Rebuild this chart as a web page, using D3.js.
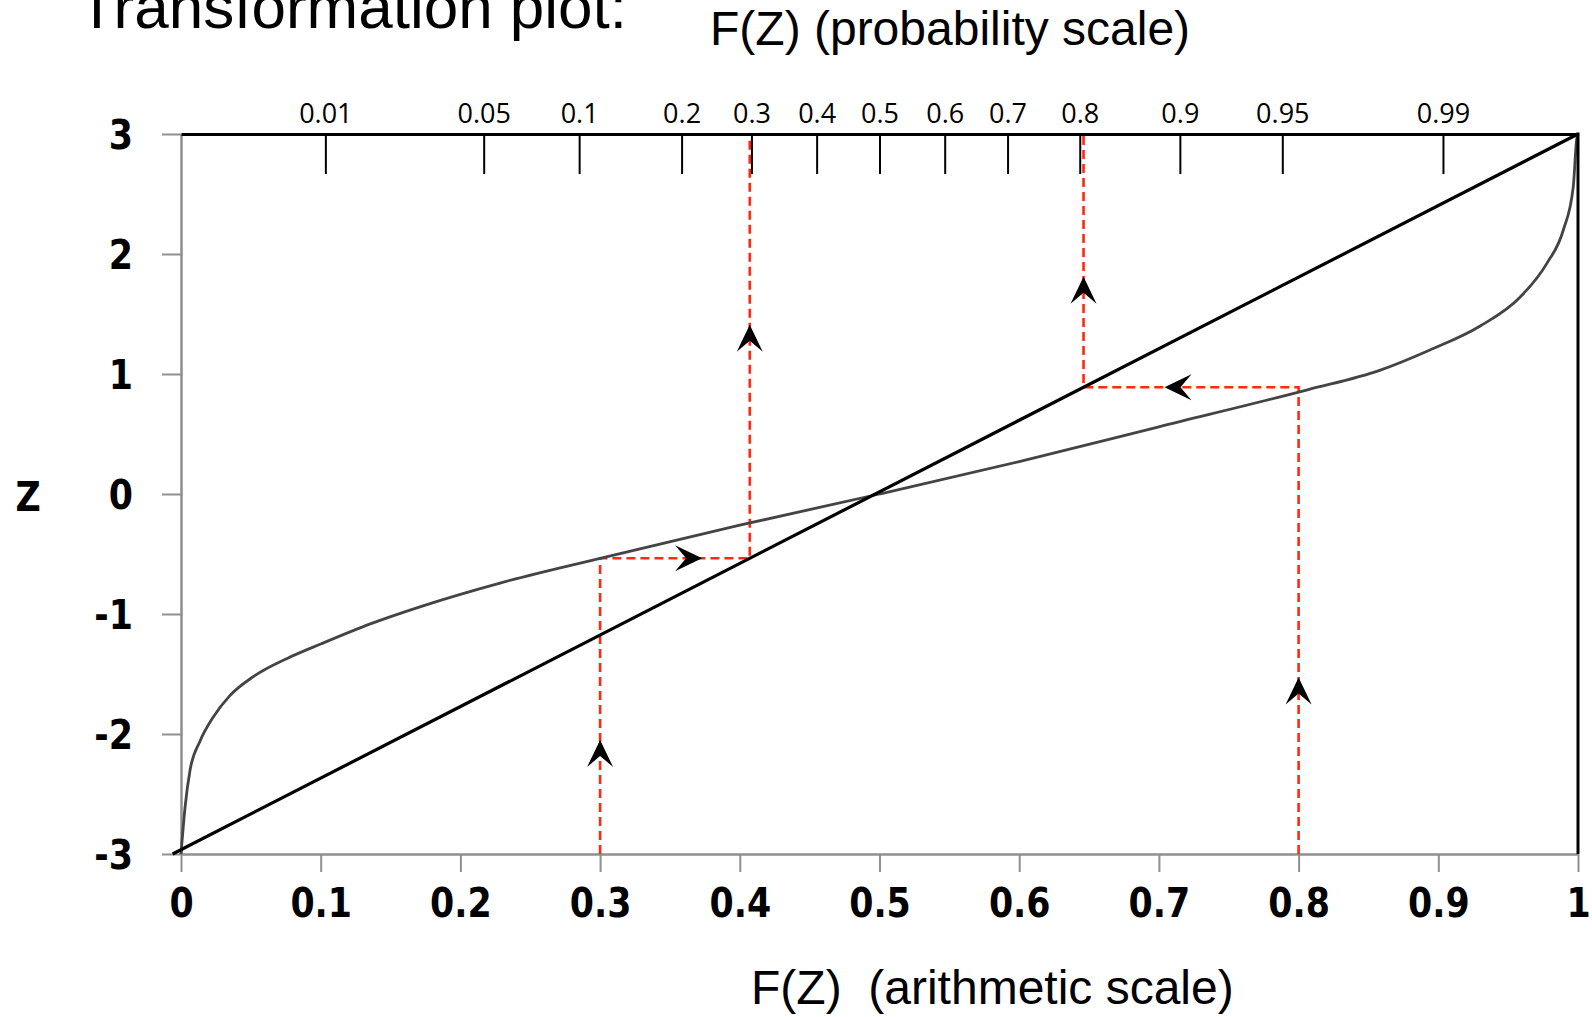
<!DOCTYPE html>
<html>
<head>
<meta charset="utf-8">
<title>Transformation plot</title>
<script src="https://cdn.jsdelivr.net/npm/d3@7"></script>
<style>
  html, body { margin: 0; padding: 0; background: #fff; }
  svg { display: block; }
  .sans { font-family: "Liberation Sans", Arial, sans-serif; }
  .bold-label { font-family: "DejaVu Sans", Verdana, sans-serif; font-weight: bold; font-size: 40px; fill: #000; }
  .prob-label { font-family: "Open Sans", sans-serif; font-size: 27px; fill: #000; }
</style>
</head>
<body>
<div id="chart"></div>
<script>
// S-curve: F(Z) on the arithmetic axis against Z
const CURVE_F = [0, 0.003, 0.0065, 0.0136, 0.023, 0.035, 0.052, 0.076, 0.1, 0.136, 0.171, 0.229,
  0.3, 0.4, 0.5, 0.6, 0.7, 0.807, 0.858, 0.894, 0.93, 0.9585, 0.9776, 0.9895, 0.9966, 0.999, 1];
const CURVE_Z = [-3, -2.6, -2.3, -2.06, -1.86, -1.68, -1.52, -1.37, -1.25, -1.08, -0.94, -0.74,
  -0.536, -0.26, 0, 0.27, 0.56, 0.87, 1.03, 1.2, 1.4, 1.64, 1.92, 2.2, 2.56, 2.95, 3];

// straight transformation line
const DIAG_F = [-0.006, 1];
const DIAG_Z = [-3, 3];

// arithmetic axis (bottom) and Z axis (left)
const X_TICKS = [0, 0.1, 0.2, 0.3, 0.4, 0.5, 0.6, 0.7, 0.8, 0.9, 1];
const X_TICK_LABELS = ['0', '0.1', '0.2', '0.3', '0.4', '0.5', '0.6', '0.7', '0.8', '0.9', '1'];
const Y_TICKS = [3, 2, 1, 0, -1, -2, -3];

// probability axis (top): label and the Z where its tick sits
const PROB_TICK_LABELS = ['0.01', '0.05', '0.1', '0.2', '0.3', '0.4', '0.5', '0.6', '0.7', '0.8', '0.9', '0.95', '0.99'];
const PROB_TICK_Z = [-2.38, -1.70, -1.29, -0.85, -0.55, -0.27, 0, 0.28, 0.55, 0.86, 1.29, 1.73, 2.42];

// red guides: start F, Z where they meet the curve, and where the arrowheads sit
const GUIDE_F = [0.3, 0.8];
const GUIDE_Z = [-0.536, 0.889];
const ARROW_LOWER_Z = [-2.05, -1.53];
const ARROW_MID_F = [0.373, 0.704];
const ARROW_UPPER_Z = [1.41, 1.81];

/**
 * Draw the transformation plot
 */
function createChart() {
  // constants
  const SVG_WIDTH = 1592;
  const SVG_HEIGHT = 1017;
  const LEFT = 181;
  const RIGHT = 1578;
  const TOP = 134;
  const BOTTOM = 854;
  const GRAY = '#8f8f8f';
  const RED = '#ff2a0e';
  const SQUEEZE = 0.87;

  const svg = d3.select('#chart').append('svg')
    .attr('width', SVG_WIDTH)
    .attr('height', SVG_HEIGHT);

  svg.append('rect')
    .attr('width', SVG_WIDTH)
    .attr('height', SVG_HEIGHT)
    .attr('fill', '#fff');

  // scales
  const x = d3.scaleLinear().domain([0, 1]).range([LEFT, RIGHT]);
  const y = d3.scaleLinear().domain([-3, 3]).range([BOTTOM, TOP]);
  const zTop = d3.scaleLinear().domain([-3, 3]).range([LEFT, RIGHT]);
  const diagInv = d3.scaleLinear().domain(DIAG_Z).range(DIAG_F);

  // titles (the first one is cut by the top edge, as in the source)
  svg.append('text')
    .attr('class', 'sans')
    .attr('x', 78)
    .attr('y', 28)
    .attr('font-size', 62)
    .text('Transformation plot:');

  svg.append('text')
    .attr('class', 'sans')
    .attr('x', 710)
    .attr('y', 45)
    .attr('font-size', 48)
    .text('F(Z) (probability scale)');

  svg.append('text')
    .attr('class', 'sans')
    .attr('x', 751)
    .attr('y', 1004)
    .attr('font-size', 48)
    .attr('xml:space', 'preserve')
    .style('white-space', 'pre')
    .text('F(Z)  (arithmetic scale)');

  svg.append('text')
    .attr('class', 'bold-label')
    .attr('text-anchor', 'middle')
    .attr('transform', `translate(28,511) scale(${SQUEEZE},1)`)
    .text('Z');

  // left axis (gray)
  const yAxis = svg.append('g')
    .attr('transform', `translate(${LEFT},0)`)
    .call(d3.axisLeft(y).tickValues(Y_TICKS).tickSize(19).tickSizeOuter(0).tickFormat(d3.format('d')));
  yAxis.select('.domain').attr('stroke', GRAY).attr('stroke-width', 2.5);
  yAxis.selectAll('.tick line').attr('stroke', GRAY).attr('stroke-width', 2);
  yAxis.selectAll('.tick text')
    .attr('class', 'bold-label')
    .attr('x', null)
    .attr('dy', null)
    .attr('text-anchor', 'end')
    .attr('font-size', null)
    .attr('font-family', null)
    .attr('transform', `translate(-48,14) scale(${SQUEEZE},1)`)
    .text(d => d < 0 ? '-' + Math.abs(d) : d);

  // bottom axis (gray)
  const xAxis = svg.append('g')
    .attr('transform', `translate(0,${BOTTOM})`)
    .call(d3.axisBottom(x).tickValues(X_TICKS).tickSize(18).tickSizeOuter(0)
      .tickFormat((_, i) => X_TICK_LABELS[i]));
  xAxis.select('.domain').attr('stroke', GRAY).attr('stroke-width', 2.5);
  xAxis.selectAll('.tick line').attr('stroke', GRAY).attr('stroke-width', 2);
  xAxis.selectAll('.tick text')
    .attr('class', 'bold-label')
    .attr('y', null)
    .attr('dy', null)
    .attr('font-size', null)
    .attr('font-family', null)
    .attr('transform', `translate(0,63) scale(${SQUEEZE},1)`);

  // guides
  const line = d3.line()
    .x(d => x(d[0]))
    .y(d => y(d[1]));

  GUIDE_F.forEach((f, i) => {
    const zc = GUIDE_Z[i];
    const fd = diagInv(zc);
    svg.append('path')
      .datum([[f, -3], [f, zc], [fd, zc], [fd, 3]])
      .attr('fill', 'none')
      .attr('stroke', RED)
      .attr('stroke-width', 2.6)
      .attr('stroke-dasharray', '9,5')
      .attr('d', line);
  });

  // curve
  const curve = d3.line()
    .x(d => x(d[0]))
    .y(d => y(d[1]))
    .curve(d3.curveMonotoneX);

  svg.append('path')
    .datum(CURVE_F.map((f, i) => [f, CURVE_Z[i]]))
    .attr('fill', 'none')
    .attr('stroke', '#444')
    .attr('stroke-width', 2.8)
    .attr('d', curve);

  // diagonal
  svg.append('path')
    .datum(DIAG_F.map((f, i) => [f, DIAG_Z[i]]))
    .attr('fill', 'none')
    .attr('stroke', '#000')
    .attr('stroke-width', 3.2)
    .attr('d', line);

  // top axis (probability scale) and right border
  const topAxis = svg.append('g')
    .attr('transform', `translate(0,${TOP})`)
    .call(d3.axisTop(zTop).tickValues(PROB_TICK_Z).tickSizeInner(-40).tickSizeOuter(0).tickPadding(11)
      .tickFormat((_, i) => PROB_TICK_LABELS[i]));
  topAxis.select('.domain').attr('stroke', '#000').attr('stroke-width', 3);
  topAxis.selectAll('.tick line').attr('stroke', '#000').attr('stroke-width', 2);
  topAxis.selectAll('.tick text')
    .attr('class', 'prob-label')
    .attr('font-size', null)
    .attr('font-family', null);

  svg.append('line')
    .attr('x1', x(1))
    .attr('x2', x(1))
    .attr('y1', y(3) - 1.5)
    .attr('y2', y(-3))
    .attr('stroke', '#000')
    .attr('stroke-width', 3);

  // arrowheads
  const ARROW = 'M0,0L-27,-13L-16,0L-27,13Z';
  function arrow(f, z, angle) {
    svg.append('path')
      .attr('d', ARROW)
      .attr('fill', '#000')
      .attr('transform', `translate(${x(f)},${y(z)}) rotate(${angle})`);
  }

  GUIDE_F.forEach((f, i) => {
    const fd = diagInv(GUIDE_Z[i]);
    arrow(f, ARROW_LOWER_Z[i], -90);
    arrow(ARROW_MID_F[i], GUIDE_Z[i], fd > f ? 0 : 180);
    arrow(fd, ARROW_UPPER_Z[i], -90);
  });
}

/**
 * Entry point
 */
(function main() {
  createChart();
})();
</script>
</body>
</html>
